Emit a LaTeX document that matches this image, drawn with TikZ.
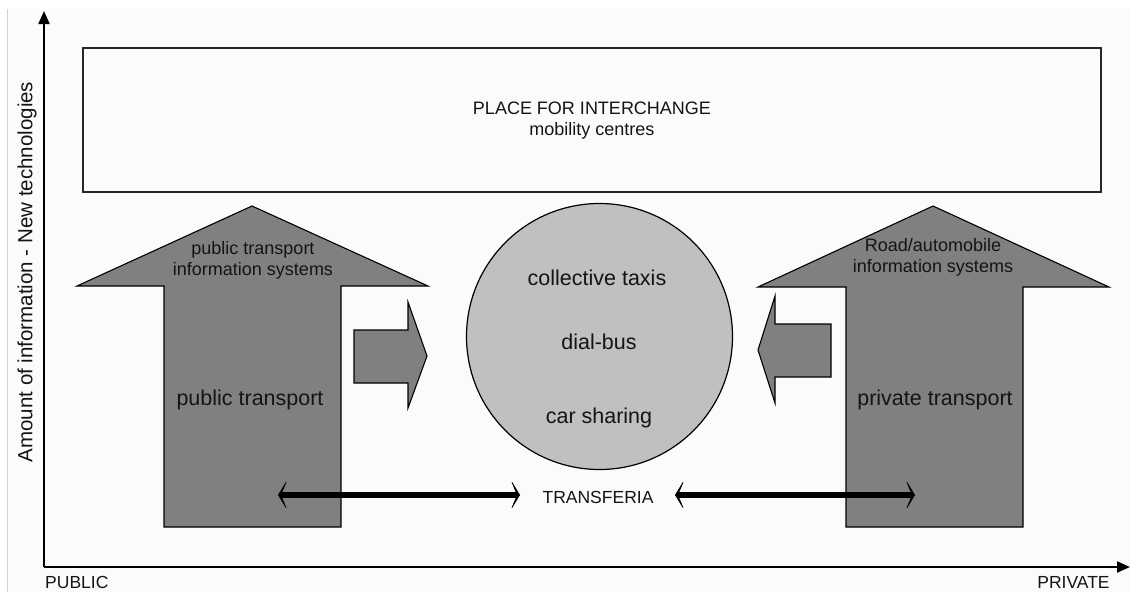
\documentclass[tikz,border=0pt]{standalone}
\usepackage{fontspec}
\setmainfont{Liberation Sans}
\usetikzlibrary{arrows.meta,calc}
\definecolor{arrowgray}{HTML}{808080}
\definecolor{discgray}{HTML}{C0C0C0}
\definecolor{ink}{HTML}{141414}
\definecolor{paper}{HTML}{FBFBFB}
\begin{document}
\begin{tikzpicture}[x=1pt,y=-1pt,
  blockarrow/.style={fill=arrowgray, draw=black, line width=1.1pt, line join=miter},
  axisline/.style={line width=2.3pt, draw=black, -{Triangle[length=13pt,width=11pt]}},
  transfer/.style={line width=6pt, draw=black,
    {Stealth[length=10pt,width=33pt,inset=7pt,line width=0.6pt]}-{Stealth[length=10pt,width=33pt,inset=7pt,line width=0.6pt]}},
  lbl/.style={inner sep=0pt, text=ink, align=center, font=\fontsize{18}{21}\selectfont},
  biglbl/.style={lbl, font=\fontsize{21.5}{25}\selectfont}
]
\useasboundingbox (0,0) rectangle (1130,592);
\fill[white] (0,0) rectangle (1130,592);
\fill[paper] (7,9) rectangle (1130,592);
\draw[gray!35, line width=0.8pt] (7.5,9) -- (7.5,592);

% axes
\coordinate (origin) at (44,567);
\coordinate (ytop) at (44,11);
\coordinate (xend) at (1130,567);
\draw[axisline] (origin) -- (ytop);
\draw[axisline] (origin) -- (xend);
\node[lbl, font=\fontsize{17.5}{20}\selectfont, anchor=west] (public) at (45,582) {PUBLIC};
\node[lbl, font=\fontsize{17.5}{20}\selectfont] (private) at (1073.5,582) {PRIVATE};
\node[lbl, font=\fontsize{20.5}{22}\selectfont, rotate=90] (amount) at (27,272)
  {Amount of information - New technologies};

% place for interchange
\node[draw=black!85, line width=1.5pt, fill=paper, minimum width=1018pt, minimum height=144pt,
      inner sep=0pt] (interchange) at (592,120) {};
\node[lbl] (interchangetext) at (592,121) {PLACE FOR INTERCHANGE\\mobility centres};

% public transport arrow
\draw[blockarrow] (164,527) -- (164,286) -- (77,286) -- (252,206) -- (428,286)
  -- (341,286) -- (341,527) -- cycle;
\node[lbl] (ptinfo) at (253,260.5) {public transport\\information systems};
\node[biglbl] (pt) at (250,400) {public transport};

% private transport arrow
\draw[blockarrow] (846,527) -- (846,287) -- (758,287) -- (933,206) -- (1109,287)
  -- (1023,287) -- (1023,527) -- cycle;
\node[lbl] (rdinfo) at (933,257.5) {Road/automobile\\information systems};
\node[biglbl] (prt) at (935,400) {private transport};

% feeder arrows towards the centre
\draw[blockarrow] (354,330) -- (408,330) -- (408,302) -- (427,356) -- (408,408)
  -- (408,383) -- (354,383) -- cycle;
\draw[blockarrow] (831,324) -- (775,324) -- (775,296) -- (758,350) -- (775,403)
  -- (775,377) -- (831,377) -- cycle;

% flexible services
\node[circle, draw=black, line width=1.2pt, fill=discgray, minimum size=266pt, inner sep=0pt]
  (hub) at (599.5,336.5) {};
\node[biglbl] (taxis) at (597,278) {collective taxis};
\node[biglbl] (dialbus) at (599,342) {dial-bus};
\node[biglbl] (carsharing) at (599,418) {car sharing};

% transferia
\node[lbl, font=\fontsize{17.5}{20}\selectfont] (transferia) at (598,497) {TRANSFERIA};
\coordinate (ptend) at (278,495);
\coordinate (tfleft) at (520,495);
\coordinate (tfright) at (675,495);
\coordinate (prtend) at (915,495);
\draw[transfer] (ptend) -- (tfleft);
\draw[transfer] (tfright) -- (prtend);
\end{tikzpicture}
\end{document}
